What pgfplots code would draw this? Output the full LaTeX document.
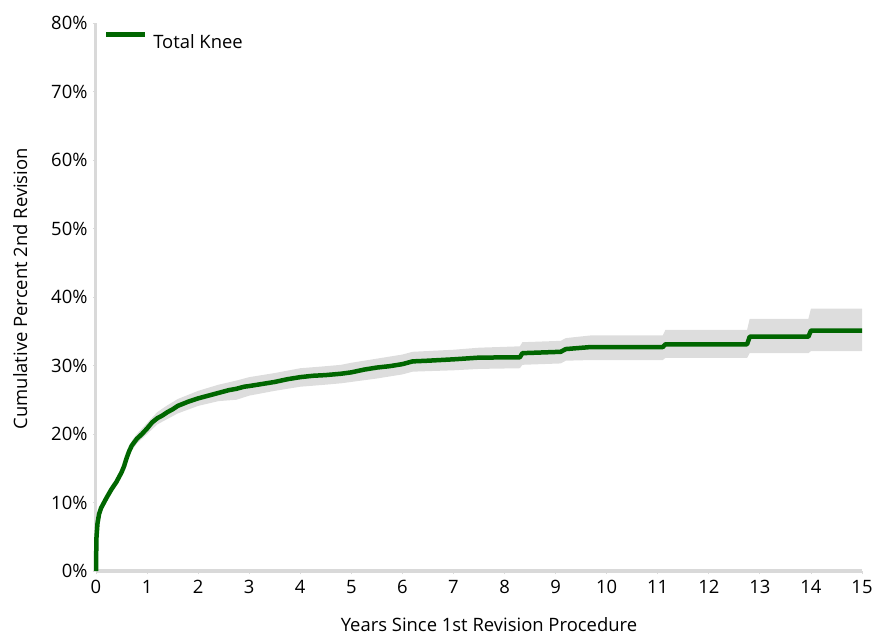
\documentclass[border=0pt]{standalone}
\usepackage{fontspec}
\setmainfont{Open Sans}
\usepackage{pgfplots}
\pgfplotsset{compat=1.18}
\definecolor{kmgreen}{RGB}{0,102,0}
\definecolor{bandgrey}{RGB}{221,221,221}
\definecolor{axgrey}{RGB}{217,217,217}
\begin{document}
\begin{tikzpicture}
\path[use as bounding box] (-96bp,-64bp) rectangle (776bp,571bp);
\begin{axis}[
  scale only axis,
  width=766bp, height=548bp,
  xmin=0, xmax=15, ymin=0, ymax=80,
  axis x line*=bottom, axis y line*=left,
  axis line style={draw=axgrey, line width=3bp},
  xtick={0,1,...,15}, ytick={0,10,...,80},
  tick align=outside,
  major tick length=3bp,
  tick style={draw=axgrey, line width=0.8bp},
  /pgf/number format/assume math mode=true,
  font=\fontsize{18.5}{21}\selectfont,
  yticklabel={\pgfmathprintnumber{\tick}\%},
  xticklabel style={yshift=-3bp},
  yticklabel style={xshift=-2bp},
  xlabel={Years Since 1st Revision Procedure},
  ylabel={Cumulative Percent 2nd Revision},
  xlabel style={at={(axis description cs:0.513,-0.097)}, anchor=center},
  ylabel style={at={(axis description cs:-0.099,0.515)}, anchor=center},
  legend style={draw=none, fill=none, at={(axis description cs:0.006,0.987)}, anchor=north west, font=\fontsize{18.5}{21}\selectfont},
  legend cell align=left,
  legend image code/.code={\draw[#1] (0bp,8bp) -- (39bp,8bp); \path (43bp,8bp);},
  clip=false,
]
\addplot[fill=bandgrey, draw=none, forget plot] coordinates {
(0,0) (0.05,8.5) (0.1,9.7) (0.2,11.1) (0.3,12.5) (0.4,13.6) (0.5,15.0) (0.6,17.1) (0.7,19.0) (0.8,20.0)
(1.0,21.6) (1.2,23.2) (1.4,24.2) (1.6,25.1) (2.0,26.3) (2.4,27.2) (2.75,27.8) (3.0,28.3) (3.5,28.9)
(4.0,29.6) (4.5,29.9) (4.8,30.1) (5.0,30.4) (5.5,31.0) (6.0,31.6) (6.2,32.0) (7.0,32.3) (7.5,32.6)
(8.3,32.8) (8.35,33.4) (9.1,33.6) (9.2,34.0) (9.7,34.4) (11.1,34.4) (11.15,35.2) (12.75,35.2)
(12.8,36.8) (13.95,36.8) (14.0,38.3) (15.0,38.3)
(15.0,32.1) (14.0,32.1) (13.95,31.8) (12.8,31.8) (12.75,31.1) (11.15,31.1) (11.1,30.8) (9.7,30.8)
(9.2,30.7) (9.1,30.3) (8.35,30.1) (8.3,29.6) (7.5,29.5) (7.0,29.3) (6.2,29.1) (6.0,28.7) (5.5,28.1)
(5.0,27.6) (4.8,27.4) (4.5,27.2) (4.0,26.9) (3.5,26.3) (3.0,25.6) (2.75,25.0) (2.4,24.8) (2.0,24.1)
(1.6,23.0) (1.4,22.2) (1.2,21.4) (1.0,20.0) (0.8,18.6) (0.7,17.6) (0.6,15.9) (0.5,13.8) (0.4,12.4)
(0.3,11.3) (0.2,10.1) (0.1,8.7) (0.05,7.5) (0,0)
} -- cycle;
\addplot[kmgreen, line width=4.5bp, line join=round] coordinates {
(0,0) (0.005,3) (0.01,5) (0.03,7) (0.06,8.3) (0.1,9.2) (0.15,9.9) (0.2,10.6) (0.3,11.9) (0.4,13.0)
(0.5,14.4) (0.55,15.3) (0.6,16.5) (0.65,17.5) (0.7,18.3) (0.8,19.3) (0.9,20.0) (1.0,20.8) (1.1,21.7)
(1.2,22.3) (1.3,22.7) (1.4,23.2) (1.5,23.6) (1.6,24.1) (1.8,24.7) (2.0,25.2) (2.2,25.6) (2.4,26.0)
(2.6,26.4) (2.75,26.6) (2.9,26.9) (3.0,27.0) (3.25,27.3) (3.5,27.6) (3.75,28.0) (4.0,28.3) (4.25,28.5)
(4.5,28.6) (4.8,28.8) (5.0,29.0) (5.25,29.4) (5.5,29.7) (5.75,29.9) (6.0,30.2) (6.2,30.6) (6.5,30.7)
(7.0,30.9) (7.5,31.15) (8.3,31.2) (8.35,31.8) (9.1,32.0) (9.2,32.4) (9.7,32.7) (11.1,32.7) (11.15,33.1)
(12.75,33.1) (12.8,34.2) (13.95,34.2) (14.0,35.1) (15.0,35.1)
};
\addlegendentry{Total Knee}
\end{axis}
\end{tikzpicture}
\end{document}
